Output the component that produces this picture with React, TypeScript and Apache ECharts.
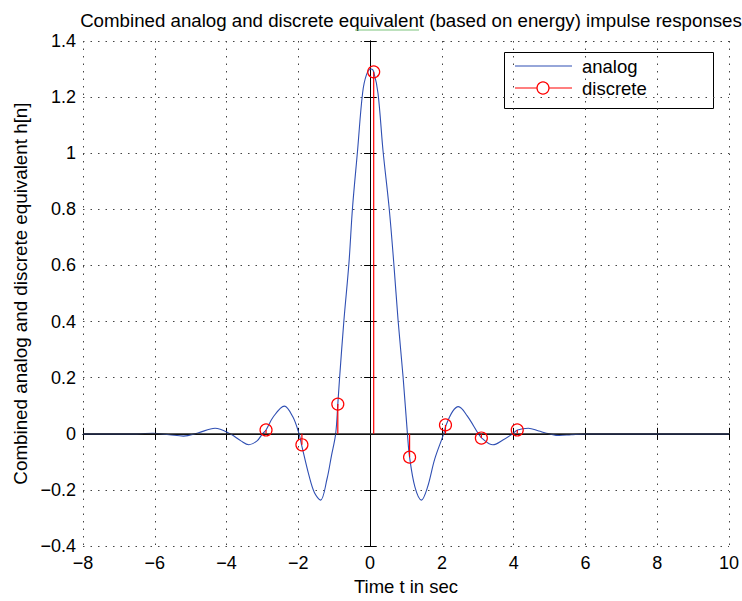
import React, { useEffect, useRef } from "react";
import * as echarts from "echarts";

const analogT = [
  -8, -7, -6.5, -6.05, -5.6, -5.2, -4.8, -4.32, -3.9, -3.6, -3.38, -3.15, -3.0, -2.9, -2.7, -2.39, -2.15,
  -1.98, -1.91, -1.7, -1.55, -1.38, -1.2, -1.08, -0.96, -0.9, -0.85, -0.73, -0.59, -0.49, -0.35, -0.21,
  -0.1, 0.03, 0.1, 0.22, 0.36, 0.53, 0.66, 0.78, 0.92, 1.04, 1.1, 1.25, 1.43, 1.6, 1.8, 2.05, 2.12, 2.3,
  2.46, 2.7, 3.02, 3.11, 3.42, 3.7, 3.97, 4.11, 4.41, 4.7, 5.0, 5.27, 5.6, 6.0, 7, 8, 9, 10,
];
const analogH = [
  0, 0, 0, 0.002, -0.003, -0.008, 0.003, 0.02, 0, -0.025, -0.039, -0.025, 0, 0.014, 0.06, 0.099, 0.06,
  0, -0.039, -0.15, -0.21, -0.236, -0.16, -0.08, 0, 0.106, 0.2, 0.404, 0.608, 0.806, 1.009, 1.214,
  1.28, 1.3, 1.29, 1.214, 1.009, 0.806, 0.608, 0.404, 0.201, 0, -0.083, -0.19, -0.236, -0.19, -0.09, 0, 0.032, 0.08,
  0.097, 0.065, 0, -0.015, -0.039, -0.022, 0, 0.014, 0.02, 0.01, 0, -0.006, -0.003, 0, 0, 0, 0, 0,
];

const discreteT = [-2.9, -1.9, -0.9, 0.1, 1.1, 2.1, 3.1, 4.1];
const discreteH = [0.014, -0.039, 0.106, 1.29, -0.083, 0.032, -0.015, 0.014];

const titleText = "Combined analog and discrete equivalent (based on energy) impulse responses";
const xName = "Time t in sec";
const yName = "Combined analog and discrete equivalent h[n]";
const legendNames = ["analog", "discrete"];

const FONT = "'Liberation Sans', Arial, Helvetica, sans-serif";
const BLUE = "#2f4fb3";
const RED = "#ff0000";

export default function App() {
  const ref = useRef<HTMLDivElement>(null);

  useEffect(() => {
    if (!ref.current) return;
    const chart = echarts.init(ref.current, undefined, { renderer: "svg", width: 742, height: 601 });
    const fmt = (v: number) => String(Math.round(v * 10) / 10).replace("-", "\u2212");
    const gridStyle = { show: true, lineStyle: { color: "#444", type: [1.5, 6] as any, width: 1 } };
    const axisLine = { show: true, lineStyle: { color: "#000", width: 1 } };
    const axisTick = { show: true, inside: true, length: 6, lineStyle: { color: "#000", width: 1 } };

    chart.setOption({
      animation: false,
      backgroundColor: "#fff",
      textStyle: { fontFamily: FONT },
      title: {
        text: titleText,
        left: 406,
        textAlign: "center",
        top: 6,
        textStyle: { fontSize: 18.7, fontWeight: "normal", color: "#000", fontFamily: FONT },
      },
      grid: { left: 83, right: 11, top: 41, bottom: 53, containLabel: false },
      xAxis: [
        {
          type: "value",
          min: -8,
          max: 10,
          interval: 2,
          name: xName,
          nameLocation: "middle",
          nameGap: 30,
          nameTextStyle: { fontSize: 18.5, color: "#000", fontFamily: FONT },
          axisLine,
          axisTick,
          axisLabel: { fontSize: 18, color: "#000", margin: 8, formatter: fmt, fontFamily: FONT },
          splitLine: gridStyle,
        },
        {
          type: "value",
          position: "top",
          min: -8,
          max: 10,
          interval: 2,
          axisLine,
          axisTick,
          axisLabel: { show: false },
          splitLine: { show: false },
        },
      ],
      yAxis: [
        {
          type: "value",
          min: -0.4,
          max: 1.4,
          interval: 0.2,
          name: yName,
          nameLocation: "middle",
          nameGap: 51,
          nameTextStyle: { fontSize: 18.8, color: "#000", fontFamily: FONT },
          axisLine,
          axisTick,
          axisLabel: { fontSize: 18, color: "#000", margin: 7, formatter: fmt, fontFamily: FONT },
          splitLine: gridStyle,
        },
        {
          type: "value",
          position: "right",
          min: -0.4,
          max: 1.4,
          interval: 0.2,
          axisLine,
          axisTick,
          axisLabel: { show: false },
          splitLine: { show: false },
        },
      ],
      series: [
        {
          name: legendNames[0],
          type: "line",
          data: analogT.map((t, i) => [t, analogH[i]]),
          smooth: 0.35,
          showSymbol: false,
          lineStyle: { color: BLUE, width: 1.1 },
          z: 3,
        },
        {
          name: "baseline",
          type: "line",
          data: [
            [-8, 0],
            [10, 0],
          ],
          showSymbol: false,
          lineStyle: { color: "#222", width: 1.2 },
          z: 4,
        },
        {
          name: legendNames[1],
          type: "custom",
          data: discreteT.map((t, i) => [t, discreteH[i]]),
          z: 5,
          renderItem: (params: any, api: any) => {
            const x = api.value(0);
            const y = api.value(1);
            const p0 = api.coord([x, 0]);
            const p1 = api.coord([x, y]);
            return {
              type: "group",
              children: [
                {
                  type: "line",
                  shape: { x1: p0[0], y1: p0[1], x2: p1[0], y2: p1[1] },
                  style: { stroke: RED, lineWidth: 1.2 },
                },
                {
                  type: "circle",
                  shape: { cx: p1[0], cy: p1[1], r: 6 },
                  style: { stroke: RED, fill: "none", lineWidth: 1.2 },
                },
              ],
            };
          },
        },
      ],
      graphic: [
        {
          type: "line",
          z: 50,
          shape: { x1: 355, y1: 30, x2: 419, y2: 30 },
          style: { stroke: "#7cc47c", lineWidth: 1 },
        },
        {
          type: "group",
          z: 100,
          children: [
            {
              type: "rect",
              shape: { x: 504.5, y: 52.5, width: 209, height: 56 },
              style: { fill: "#fff", stroke: "#000", lineWidth: 1 },
            },
            {
              type: "line",
              shape: { x1: 515, y1: 66, x2: 572, y2: 66 },
              style: { stroke: BLUE, lineWidth: 1.1 },
            },
            {
              type: "text",
              x: 582,
              y: 66,
              style: { text: legendNames[0], fontSize: 18.5, fontFamily: FONT, fill: "#000", verticalAlign: "middle" },
            },
            {
              type: "line",
              shape: { x1: 515, y1: 88, x2: 572, y2: 88 },
              style: { stroke: RED, lineWidth: 1.2 },
            },
            {
              type: "circle",
              shape: { cx: 543, cy: 88, r: 6 },
              style: { stroke: RED, fill: "#fff", lineWidth: 1.2 },
            },
            {
              type: "text",
              x: 582,
              y: 88,
              style: { text: legendNames[1], fontSize: 18.5, fontFamily: FONT, fill: "#000", verticalAlign: "middle" },
            },
          ],
        },
      ],
    });
    return () => chart.dispose();
  }, []);

  return <div ref={ref} style={{ position: "fixed", left: 0, top: 0, width: 742, height: 601 }} />;
}
